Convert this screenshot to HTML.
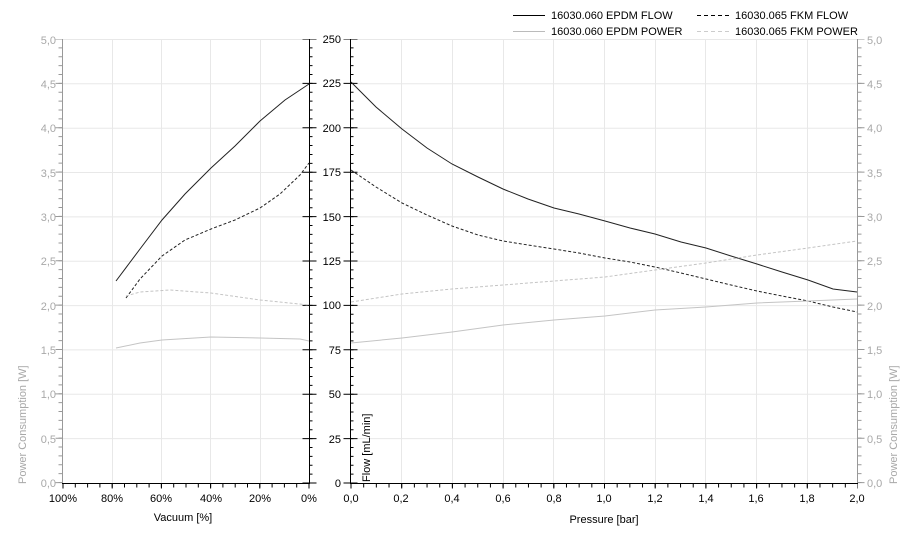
<!DOCTYPE html>
<html><head><meta charset="utf-8"><style>
html,body{margin:0;padding:0;background:#fff;}
svg{display:block;font-family:"Liberation Sans",sans-serif;font-size:11px;}
</style></head><body>
<svg width="912" height="550" viewBox="0 0 912 550" xmlns="http://www.w3.org/2000/svg">
<g stroke="#e8e8e8" stroke-width="1">
<line x1="63" y1="39.5" x2="309" y2="39.5"/><line x1="63" y1="83.8" x2="309" y2="83.8"/><line x1="63" y1="128.2" x2="309" y2="128.2"/><line x1="63" y1="172.5" x2="309" y2="172.5"/><line x1="63" y1="216.9" x2="309" y2="216.9"/><line x1="63" y1="261.2" x2="309" y2="261.2"/><line x1="63" y1="305.6" x2="309" y2="305.6"/><line x1="63" y1="349.9" x2="309" y2="349.9"/><line x1="63" y1="394.3" x2="309" y2="394.3"/><line x1="63" y1="438.6" x2="309" y2="438.6"/>
<line x1="351" y1="39.5" x2="857" y2="39.5"/><line x1="351" y1="83.8" x2="857" y2="83.8"/><line x1="351" y1="128.2" x2="857" y2="128.2"/><line x1="351" y1="172.5" x2="857" y2="172.5"/><line x1="351" y1="216.9" x2="857" y2="216.9"/><line x1="351" y1="261.2" x2="857" y2="261.2"/><line x1="351" y1="305.6" x2="857" y2="305.6"/><line x1="351" y1="349.9" x2="857" y2="349.9"/><line x1="351" y1="394.3" x2="857" y2="394.3"/><line x1="351" y1="438.6" x2="857" y2="438.6"/>
<line x1="112.5" y1="39" x2="112.5" y2="483"/><line x1="161.5" y1="39" x2="161.5" y2="483"/><line x1="210.5" y1="39" x2="210.5" y2="483"/><line x1="260.5" y1="39" x2="260.5" y2="483"/>
<line x1="401.5" y1="39" x2="401.5" y2="483"/><line x1="452.5" y1="39" x2="452.5" y2="483"/><line x1="503.5" y1="39" x2="503.5" y2="483"/><line x1="553.5" y1="39" x2="553.5" y2="483"/><line x1="604.5" y1="39" x2="604.5" y2="483"/><line x1="655.5" y1="39" x2="655.5" y2="483"/><line x1="705.5" y1="39" x2="705.5" y2="483"/><line x1="756.5" y1="39" x2="756.5" y2="483"/><line x1="807.5" y1="39" x2="807.5" y2="483"/>
</g>
<g stroke="#999">
<line x1="62.5" y1="39" x2="62.5" y2="483"/>
<line x1="60.5" y1="39" x2="60.5" y2="484" stroke-width="4" stroke-dasharray="1 7.87" stroke-dashoffset="0.5"/>
<line x1="59" y1="39" x2="59" y2="484" stroke-width="7" stroke-dasharray="1 43.36" stroke-dashoffset="0.5"/>
</g>
<g stroke="#999">
<line x1="857.5" y1="39" x2="857.5" y2="483"/>
<line x1="859.5" y1="39" x2="859.5" y2="484" stroke-width="4" stroke-dasharray="1 7.87" stroke-dashoffset="0.5"/>
<line x1="861" y1="39" x2="861" y2="484" stroke-width="7" stroke-dasharray="1 43.36" stroke-dashoffset="0.5"/>
</g>
<g stroke="#000">
<line x1="309.5" y1="39" x2="309.5" y2="483"/>
<line x1="311" y1="39" x2="311" y2="484" stroke-width="3" stroke-dasharray="1 7.88" stroke-dashoffset="0.5"/>
<line x1="309.5" y1="39" x2="309.5" y2="484" stroke-width="14" stroke-dasharray="1 43.4" stroke-dashoffset="0.5"/>
<line x1="350.5" y1="39" x2="350.5" y2="483"/>
<line x1="352" y1="39" x2="352" y2="484" stroke-width="3" stroke-dasharray="1 7.88" stroke-dashoffset="0.5"/>
<line x1="350.5" y1="39" x2="350.5" y2="484" stroke-width="14" stroke-dasharray="1 43.4" stroke-dashoffset="0.5"/>
<line x1="62" y1="483.5" x2="310" y2="483.5"/>
<line x1="62.5" y1="485.5" x2="311" y2="485.5" stroke-width="4" stroke-dasharray="1 11.3"/>
<line x1="62.5" y1="486" x2="311" y2="486" stroke-width="5" stroke-dasharray="1 48.2"/>
<line x1="350" y1="483.5" x2="858" y2="483.5"/>
<line x1="350.5" y1="485.5" x2="858" y2="485.5" stroke-width="4" stroke-dasharray="1 11.675"/>
<line x1="350.5" y1="486" x2="858" y2="486" stroke-width="5" stroke-dasharray="1 49.7"/>
</g>
<g fill="#a8a8a8" text-anchor="end">
<text x="56" y="44">5,0</text><text x="56" y="88">4,5</text><text x="56" y="132">4,0</text><text x="56" y="177">3,5</text><text x="56" y="221">3,0</text><text x="56" y="265">2,5</text><text x="56" y="310">2,0</text><text x="56" y="354">1,5</text><text x="56" y="398">1,0</text><text x="56" y="443">0,5</text><text x="56" y="487">0,0</text>
</g>
<g fill="#a8a8a8">
<text x="867" y="44">5,0</text><text x="867" y="88">4,5</text><text x="867" y="132">4,0</text><text x="867" y="177">3,5</text><text x="867" y="221">3,0</text><text x="867" y="265">2,5</text><text x="867" y="310">2,0</text><text x="867" y="354">1,5</text><text x="867" y="398">1,0</text><text x="867" y="443">0,5</text><text x="867" y="487">0,0</text>
</g>
<g fill="#000" text-anchor="end">
<text x="341" y="43">250</text><text x="341" y="87">225</text><text x="341" y="132">200</text><text x="341" y="176">175</text><text x="341" y="221">150</text><text x="341" y="265">125</text><text x="341" y="309">100</text><text x="341" y="354">75</text><text x="341" y="398">50</text><text x="341" y="443">25</text><text x="341" y="487">0</text>
</g>
<g fill="#000" text-anchor="middle">
<text x="63" y="502">100%</text><text x="112" y="502">80%</text><text x="161" y="502">60%</text><text x="211" y="502">40%</text><text x="260" y="502">20%</text><text x="309" y="502">0%</text>
<text x="351" y="502">0,0</text><text x="401" y="502">0,2</text><text x="452" y="502">0,4</text><text x="503" y="502">0,6</text><text x="554" y="502">0,8</text><text x="604" y="502">1,0</text><text x="655" y="502">1,2</text><text x="706" y="502">1,4</text><text x="756" y="502">1,6</text><text x="807" y="502">1,8</text><text x="857" y="502">2,0</text>
<text x="183" y="521">Vacuum [%]</text><text x="604" y="523">Pressure [bar]</text>
</g>
<text transform="translate(26,484) rotate(-90)" fill="#a8a8a8">Power Consumption [W]</text>
<text transform="translate(897,484) rotate(-90)" fill="#a8a8a8">Power Consumption [W]</text>
<text transform="translate(370,482) rotate(-90)" fill="#000">Flow [mL/min]</text>
<g fill="none" stroke-width="1">
<polyline stroke="#222" points="116,281 140,249 162,220 185,194 211,168 235,146 260,121 285,100 300,90 309,84"/>
<polyline stroke="#222" stroke-dasharray="3 2" points="126,298 140,279 162,256 185,240 211,229 235,220 260,208 280,194 300,175 309,163"/>
<polyline stroke="#c4c4c4" stroke-dasharray="3 2" points="126,296 140,292 170,290 211,293 260,300 309,305"/>
<polyline stroke="#c4c4c4" points="116,348 140,343 162,340 211,337 260,338 300,339 309,341"/>
<polyline stroke="#222" points="351,82 376,107 402,129 427,148 452,164 478,177 503,189 528,199 554,208 579,214 605,221 630,228 655,234 681,242 706,248 731,256 757,264 782,272 808,280 833,289 857,292"/>
<polyline stroke="#222" stroke-dasharray="3 2" points="351,170 376,187 402,203 427,215 452,226 478,235 503,241 528,245 554,249 579,253 605,258 630,262 655,267 681,273 706,279 731,285 757,291 782,296 808,301 833,307 857,312"/>
<polyline stroke="#c4c4c4" stroke-dasharray="3 2" points="351,302 402,294 452,289 503,285 554,281 605,277 655,270 706,263 757,255 808,248 857,241"/>
<polyline stroke="#c4c4c4" points="351,343 402,338 452,332 503,325 554,320 605,316 655,310 706,307 757,303 808,301 857,299"/>
</g>
<line x1="513" y1="15.5" x2="545" y2="15.5" stroke="#000"/>
<line x1="697" y1="15.5" x2="729" y2="15.5" stroke="#000" stroke-dasharray="4 3"/>
<line x1="513" y1="31.5" x2="545" y2="31.5" stroke="#bbb"/>
<line x1="697" y1="31.5" x2="729" y2="31.5" stroke="#ccc" stroke-dasharray="4 3"/>
<g fill="#000">
<text x="551" y="19">16030.060 EPDM FLOW</text><text x="735" y="19">16030.065 FKM FLOW</text>
<text x="551" y="35">16030.060 EPDM POWER</text><text x="735" y="35">16030.065 FKM POWER</text>
</g>
</svg>
</body></html>
